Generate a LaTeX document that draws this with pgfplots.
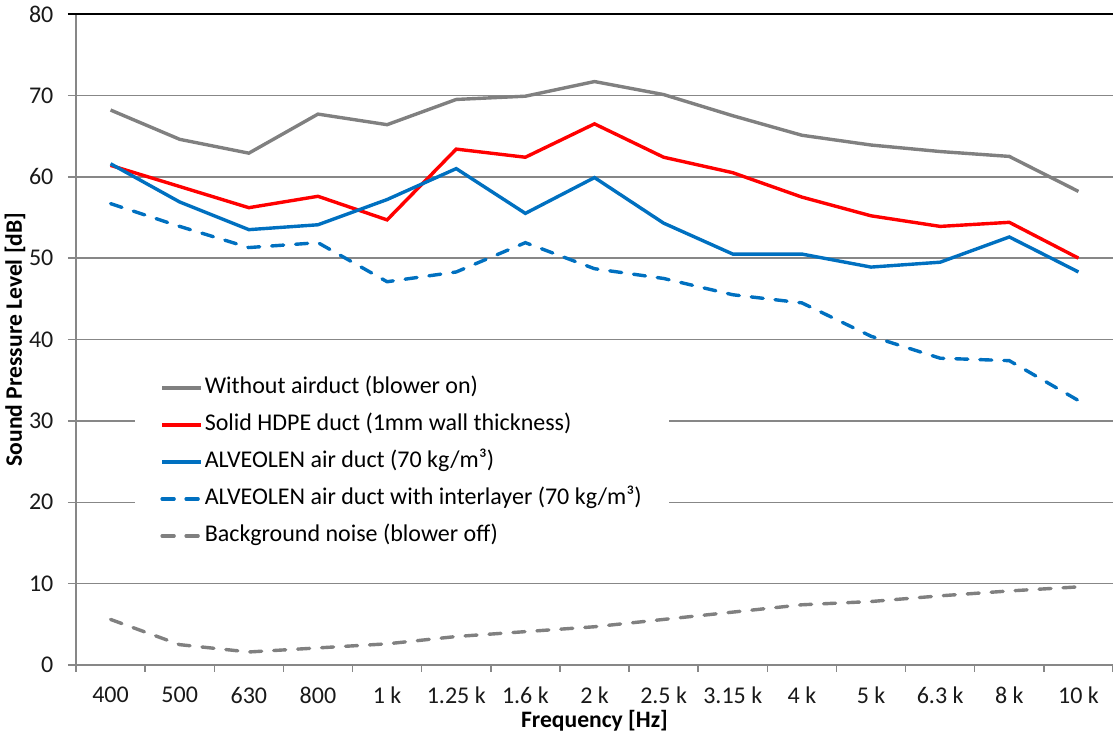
\documentclass[border=0pt]{standalone}
\usepackage{fontspec}
\setmainfont{Carlito}
\usepackage{pgfplots}
\pgfplotsset{compat=1.18}
\definecolor{sgray}{HTML}{808080}
\definecolor{sred}{HTML}{FF0000}
\definecolor{sblue}{HTML}{0070C0}
\definecolor{gridc}{HTML}{878787}
\begin{document}
\begin{tikzpicture}
\begin{axis}[
  at={(0,0)}, anchor=south west,
  scale only axis, width=518.5pt, height=325.5pt,
  xmin=-0.5, xmax=14.5, ymin=0, ymax=80,
  clip=false,
  axis x line*=bottom, axis y line*=left,
  axis line style={draw=gridc, line width=0.75pt, -},
  xtick={0,...,14},
  xticklabels={400,500,630,800,1 k,1.25 k,1.6 k,2 k,2.5 k,3.15 k,4 k,5 k,6.3 k,8 k,10 k},
  major x tick style={draw=none},
  minor xtick={-0.5,0.5,...,14.5},
  minor x tick style={draw=gridc, line width=0.75pt},
  minor tick length=3.5pt,
  major tick length=4pt,
  tick align=outside,
  ytick={0,10,...,80},
  ytick style={draw=gridc, line width=0.75pt},
  ymajorgrids, grid style={draw=gridc, line width=0.75pt},
  /pgf/number format/assume math mode=true,
  tick label style={font=\fontsize{12}{14}\selectfont, text=black!90},
  xticklabel style={yshift=-3.5pt},
  yticklabel style={xshift=-3.8pt},
  every axis y label/.style={at={(axis description cs:0,0.5)}, xshift=-30.5pt, rotate=90, anchor=center, font=\bfseries\fontsize{11.8}{13}\selectfont},
  every axis x label/.style={at={(axis description cs:0.5,0)}, yshift=-28pt, anchor=center, font=\bfseries\fontsize{11.8}{13}\selectfont},
  xlabel={Frequency [Hz]},
  ylabel={Sound Pressure Level [dB]},
  legend cell align=left,
  legend image code/.code={\draw[#1] (0pt,0pt) -- (19.5pt,0pt);},
  legend style={at={(axis description cs:0.0569,0.4601)}, anchor=north west,
    draw=none, fill=white, inner xsep=12.5pt, inner ysep=4pt, row sep=4.5pt, column sep=0pt,
    font=\fontsize{12}{14}\selectfont,
    nodes={inner sep=1pt, text height=9pt, text depth=3pt}},
]
\addplot[sgray, line width=1.7pt] coordinates {(0,68.2)(1,64.6)(2,62.9)(3,67.7)(4,66.4)(5,69.5)(6,69.9)(7,71.7)(8,70.1)(9,67.5)(10,65.1)(11,63.9)(12,63.1)(13,62.5)(14,58.2)};
\addlegendentry{Without airduct (blower on)}
\addplot[sred, line width=1.7pt] coordinates {(0,61.4)(1,58.8)(2,56.2)(3,57.6)(4,54.7)(5,63.4)(6,62.4)(7,66.5)(8,62.4)(9,60.5)(10,57.5)(11,55.2)(12,53.9)(13,54.4)(14,50.0)};
\addlegendentry{Solid HDPE duct (1mm wall thickness)}
\addplot[sblue, line width=1.7pt] coordinates {(0,61.6)(1,56.9)(2,53.5)(3,54.1)(4,57.2)(5,61.0)(6,55.5)(7,59.9)(8,54.3)(9,50.5)(10,50.5)(11,48.9)(12,49.5)(13,52.6)(14,48.3)};
\addlegendentry{ALVEOLEN air duct (70 kg/m³)}
\addplot[sblue, line width=1.7pt, line cap=round, dash pattern=on 6pt off 6pt] coordinates {(0,56.7)(1,53.9)(2,51.3)(3,51.9)(4,47.1)(5,48.3)(6,51.9)(7,48.7)(8,47.5)(9,45.5)(10,44.5)(11,40.4)(12,37.7)(13,37.4)(14,32.5)};
\addlegendentry{ALVEOLEN air duct with interlayer (70 kg/m³)}
\addplot[sgray, line width=1.7pt, line cap=round, dash pattern=on 6pt off 6pt] coordinates {(0,5.6)(1,2.5)(2,1.6)(3,2.1)(4,2.6)(5,3.5)(6,4.1)(7,4.7)(8,5.6)(9,6.5)(10,7.4)(11,7.8)(12,8.5)(13,9.1)(14,9.6)};
\addlegendentry{Background noise (blower off)}
\draw[black, line width=0.75pt] ([xshift=-4pt]axis cs:-0.5,80) -- (axis cs:14.5,80);
\end{axis}
\pgfresetboundingbox
\path[use as bounding box] (-38pt,-34pt) rectangle (518.5pt,332.5pt);
\end{tikzpicture}
\end{document}
